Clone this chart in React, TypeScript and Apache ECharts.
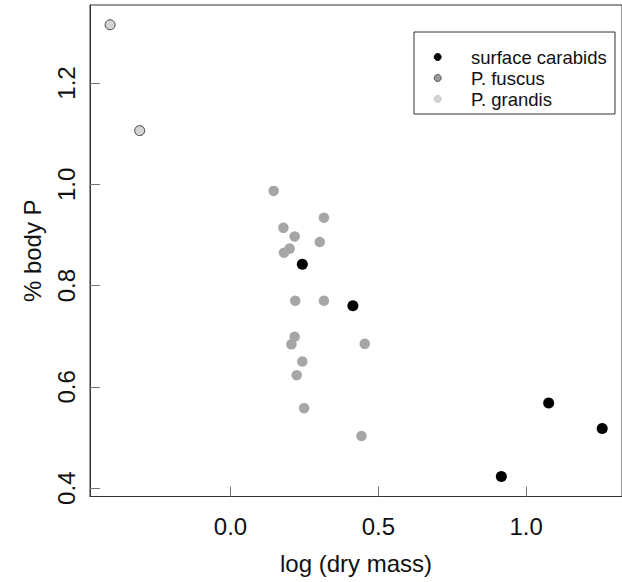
import React, { useEffect, useRef } from "react";
import * as echarts from "echarts";

// Data
const surfaceX = [0.243, 0.414, 0.916, 1.076, 1.257];
const surfaceY = [0.842, 0.760, 0.423, 0.568, 0.518];

const fuscusX = [0.146, 0.316, 0.179, 0.217, 0.302, 0.200, 0.181, 0.219, 0.316, 0.217, 0.206, 0.454, 0.243, 0.224, 0.249, 0.443];
const fuscusY = [0.987, 0.934, 0.914, 0.897, 0.886, 0.873, 0.865, 0.770, 0.770, 0.699, 0.684, 0.685, 0.650, 0.623, 0.558, 0.503];

const grandisX = [-0.407, -0.307];
const grandisY = [1.315, 1.106];

const seriesNames = ["surface carabids", "P. fuscus", "P. grandis"];
const xTicks = [0, 0.5, 1.0];
const yTicks = [0.4, 0.6, 0.8, 1.0, 1.2];

const FONT = "'Liberation Sans', Arial, sans-serif";

function zip(xs: number[], ys: number[]) {
  return xs.map((x, i) => [x, ys[i]]);
}

export default function App() {
  const ref = useRef<HTMLDivElement>(null);
  useEffect(() => {
    if (!ref.current) return;
    const chart = echarts.init(ref.current, undefined, { renderer: "svg" });
    const legendMarkers = [
      { fill: "#000000", stroke: "#000000" },
      { fill: "#9a9a9a", stroke: "#555555" },
      { fill: "#d4d4d4", stroke: "#c8c8c8" },
    ];
    const legendRows = [57, 78, 99];
    const graphic: any[] = [
      {
        type: "rect",
        shape: { x: 414, y: 32, width: 201, height: 82 },
        style: { fill: "#ffffff", stroke: "#333333", lineWidth: 1 },
        z: 10,
      },
    ];
    seriesNames.forEach((name, i) => {
      graphic.push({
        type: "circle",
        shape: { cx: 437.7, cy: legendRows[i], r: 3.5 },
        style: { fill: legendMarkers[i].fill, stroke: legendMarkers[i].stroke, lineWidth: 1 },
        z: 11,
      });
      graphic.push({
        type: "text",
        x: 471,
        y: legendRows[i],
        style: {
          text: name,
          fill: "#111111",
          font: `18.5px ${FONT}`,
          verticalAlign: "middle",
          align: "left",
        },
        z: 11,
      });
    });

    chart.setOption({
      animation: false,
      backgroundColor: "#ffffff",
      grid: {
        left: 90,
        top: 5,
        width: 544,
        height: 491.5,
        show: true,
        borderColor: "#333333",
        borderWidth: 1,
        containLabel: false,
      },
      xAxis: {
        type: "value",
        min: -0.475,
        max: 1.324,
        name: "log (dry mass)",
        nameLocation: "middle",
        nameGap: 55,
        nameTextStyle: { fontFamily: FONT, fontSize: 24, color: "#111111" },
        axisLine: { show: true, onZero: false, lineStyle: { color: "#333333", width: 1 } },
        axisTick: {
          show: true,
          inside: true,
          length: 10,
          customValues: xTicks,
          lineStyle: { color: "#777777", width: 1 },
        },
        axisLabel: {
          show: true,
          customValues: xTicks,
          margin: 18,
          fontFamily: FONT,
          fontSize: 24,
          color: "#111111",
          formatter: (v: number) => v.toFixed(1),
        },
        splitLine: { show: false },
      },
      yAxis: {
        type: "value",
        min: 0.3836,
        max: 1.354,
        name: "% body P",
        nameLocation: "middle",
        nameGap: 46,
        nameRotate: 90,
        nameTextStyle: { fontFamily: FONT, fontSize: 24, color: "#111111" },
        axisLine: { show: true, onZero: false, lineStyle: { color: "#333333", width: 1 } },
        axisTick: {
          show: true,
          inside: true,
          length: 10,
          customValues: yTicks,
          lineStyle: { color: "#777777", width: 1 },
        },
        axisLabel: {
          show: true,
          customValues: yTicks,
          rotate: 90,
          margin: 12,
          fontFamily: FONT,
          fontSize: 24,
          color: "#111111",
          formatter: (v: number) => v.toFixed(1),
        },
        splitLine: { show: false },
      },
      series: [
        {
          name: seriesNames[1],
          type: "scatter",
          symbol: "circle",
          symbolSize: 10.5,
          data: zip(fuscusX, fuscusY),
          itemStyle: { color: "#a6a6a6", borderWidth: 0, opacity: 1 },
        },
        {
          name: seriesNames[2],
          type: "scatter",
          symbol: "circle",
          symbolSize: 10,
          data: zip(grandisX, grandisY),
          itemStyle: { color: "#d3d3d3", borderColor: "#444444", borderWidth: 1, opacity: 1 },
        },
        {
          name: seriesNames[0],
          type: "scatter",
          symbol: "circle",
          symbolSize: 11,
          data: zip(surfaceX, surfaceY),
          itemStyle: { color: "#000000", borderWidth: 0, opacity: 1 },
        },
      ],
      graphic,
    });
    return () => chart.dispose();
  }, []);
  return (
    <div
      ref={ref}
      style={{ position: "absolute", left: 0, top: 0, width: 622, height: 582 }}
    />
  );
}
